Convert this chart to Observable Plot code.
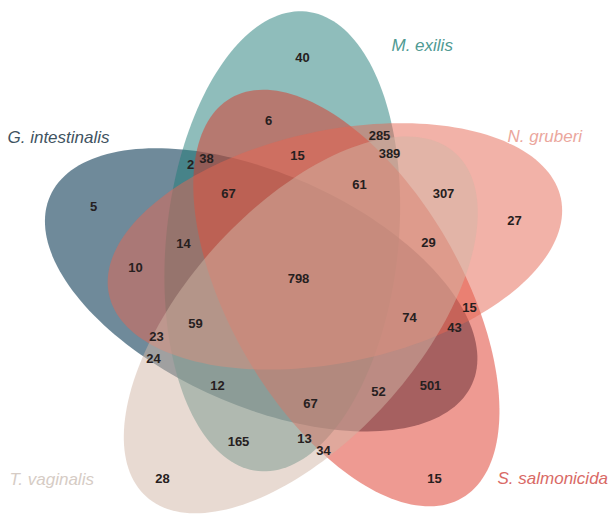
<!DOCTYPE html>
<html><head><meta charset="utf-8">
<script src="https://cdn.jsdelivr.net/npm/d3@7"></script>
<script src="https://cdn.jsdelivr.net/npm/@observablehq/plot@0.6"></script>
<style>body{margin:0;background:#fff;font-family:"Liberation Sans",Arial,sans-serif;}</style>
</head><body><div id="chart"></div>
<script>
// Sets, in drawing order (bottom to top)
const setNames   = ["G. intestinalis", "M. exilis", "S. salmonicida", "N. gruberi", "T. vaginalis"];
const setColors  = ["#0f3c57", "#1f7b77", "#dd3525", "#e56551", "#d1b5a5"];
const setOpacity = [0.6, 0.5, 0.5, 0.5, 0.5];
const labelColors = ["#3f5361", "#4f9a93", "#d96a66", "#eba79d", "#d6ccc5"];
const labelX = [7, 391, 497, 507, 9];
const labelY = [137, 45, 478, 136, 479];

// Ellipse layout (rotational 5-set Venn): angle of each ellipse's centre around the diagram centre and its tilt
const centreAngle = [167.5, 239.5, 23.5, 311.5, 95.5];
const tilt        = [24, 96, 60, 168, 132];
const layout = {cx: 304.6, cy: 279.6, offset: 45, a: 231, b: 116};

// Region counts and where they sit
const counts  = [40, 6, 285, 389, 15, 2, 38, 67, 61, 307, 27, 5, 14, 29, 10, 798, 59, 15, 74, 43, 23, 24, 12, 501, 52, 67, 165, 13, 34, 28, 15];
const countX  = [302, 268, 379, 389, 297, 190, 206, 228, 359, 443, 514, 93, 183, 428, 135, 298, 195, 469, 409, 454, 156, 153, 217, 430, 378, 310, 238, 304, 323, 162, 434];
const countY  = [57, 120, 135, 153, 155, 164, 158, 193, 184, 193, 220, 206, 243, 242, 267, 278, 323, 307, 317, 327, 336, 358, 385, 385, 391, 403, 441, 438, 450, 478, 478];

const rad = Math.PI / 180;
function outline(i) {
  const cx = layout.cx + layout.offset * Math.cos(centreAngle[i] * rad);
  const cy = layout.cy + layout.offset * Math.sin(centreAngle[i] * rad);
  const th = tilt[i] * rad;
  return d3.range(0, 360, 2).map(t => {
    const px = layout.a * Math.cos(t * rad), py = layout.b * Math.sin(t * rad);
    return {set: setNames[i], x: cx + px * Math.cos(th) - py * Math.sin(th), y: cy + px * Math.sin(th) + py * Math.cos(th)};
  });
}

const countData = counts.map((v, i) => ({v, x: countX[i], y: countY[i]}));
const labelData = setNames.map((n, i) => ({n, x: labelX[i], y: labelY[i], c: labelColors[i]}));

const chart = Plot.plot({
  width: 612, height: 516,
  margin: 0,
  x: {domain: [0, 612], range: [0, 612], axis: null},
  y: {domain: [0, 516], range: [0, 516], axis: null},
  style: {fontFamily: '"Liberation Sans", Arial, sans-serif', background: "#fff"},
  marks: [
    ...setNames.map((n, i) => Plot.line(outline(i), {x: "x", y: "y", curve: "linear-closed", fill: setColors[i], fillOpacity: setOpacity[i], stroke: "none"})),
    Plot.text(countData, {x: "x", y: "y", text: d => String(d.v), fontWeight: "bold", fontSize: 13, fill: "#262020"}),
    Plot.text(labelData, {x: "x", y: "y", text: "n", fill: "c", fontStyle: "italic", fontSize: 17, textAnchor: "start"})
  ]
});
document.getElementById("chart").appendChild(chart);
</script>
</body></html>
